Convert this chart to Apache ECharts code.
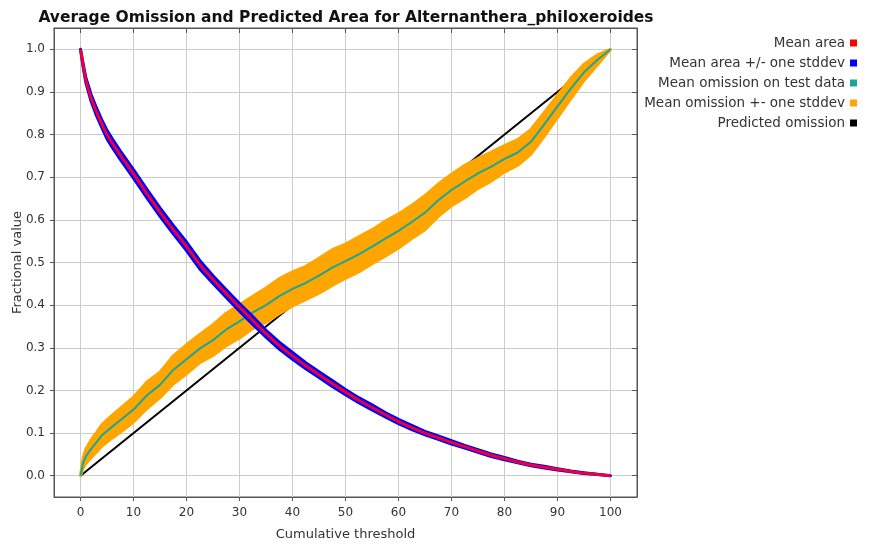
<!DOCTYPE html>
<html>
<head>
<meta charset="utf-8">
<script src="https://cdn.jsdelivr.net/npm/echarts@6/dist/echarts.min.js"></script>
<style>
  html, body { margin: 0; padding: 0; background: #fff; }
  #chart { width: 874px; height: 546px; }
</style>
</head>
<body>
<div id="chart"></div>
<script>
// cumulative threshold positions the curves are sampled at
var thresholds = [0, 0.5, 1, 2, 3, 4, 5, 6, 7.5, 10, 12.5, 15, 17.5, 20, 22.5, 25, 27.5, 30, 32.5, 35,
  37.5, 40, 42.5, 45, 47.5, 50, 52.5, 55, 57.5, 60, 62.5, 65, 67.5, 70, 72.5, 75, 77.5, 80, 82.5, 85,
  87.5, 90, 92.5, 95, 97.5, 100];

var areaMean = [1.0, 0.962, 0.928, 0.886, 0.854, 0.826, 0.80, 0.78, 0.752, 0.708, 0.662, 0.618, 0.577, 0.538, 0.495, 0.46, 0.427, 0.395, 0.364, 0.333,
  0.305, 0.281, 0.258, 0.237, 0.216, 0.196, 0.177, 0.16, 0.143, 0.127, 0.113, 0.1, 0.089, 0.078, 0.068, 0.058, 0.048, 0.04, 0.032, 0.025,
  0.02, 0.015, 0.01, 0.006, 0.003, 0.0];

var areaSd = [0, 0.004, 0.006, 0.008, 0.009, 0.009, 0.01, 0.01, 0.01, 0.01, 0.01, 0.01, 0.01, 0.01, 0.01, 0.009, 0.009, 0.009, 0.009, 0.008,
  0.008, 0.008, 0.007, 0.007, 0.007, 0.006, 0.006, 0.006, 0.005, 0.005, 0.005, 0.004, 0.004, 0.004, 0.003, 0.003, 0.003, 0.003, 0.002, 0.002,
  0.002, 0.0015, 0.001, 0.001, 0.0005, 0];

var omissionMean = [0, 0.03, 0.045, 0.063, 0.078, 0.094, 0.105, 0.115, 0.13, 0.155, 0.188, 0.213, 0.248, 0.273, 0.298, 0.318, 0.343, 0.362, 0.383, 0.4,
  0.421, 0.438, 0.452, 0.469, 0.488, 0.503, 0.519, 0.537, 0.556, 0.574, 0.595, 0.617, 0.646, 0.67, 0.69, 0.709, 0.725, 0.743, 0.758, 0.783,
  0.824, 0.866, 0.908, 0.946, 0.975, 1.0];

var omissionSd = [0, 0.012, 0.017, 0.021, 0.023, 0.025, 0.026, 0.027, 0.028, 0.029, 0.031, 0.03, 0.033, 0.034, 0.033, 0.036, 0.038, 0.039, 0.038, 0.04,
  0.041, 0.04, 0.039, 0.041, 0.042, 0.04, 0.041, 0.04, 0.041, 0.04, 0.039, 0.04, 0.038, 0.037, 0.038, 0.035, 0.034, 0.031, 0.03, 0.029,
  0.028, 0.026, 0.024, 0.019, 0.012, 0];

var predictedX = [0, 100];
var predictedY = [0, 1];

var xTicks = [0, 10, 20, 30, 40, 50, 60, 70, 80, 90, 100];
var yTicks = [0.0, 0.1, 0.2, 0.3, 0.4, 0.5, 0.6, 0.7, 0.8, 0.9, 1.0];

var FONT = 'DejaVu Sans';

function pairs(xs, ys) {
  return xs.map(function (x, i) { return [x, ys[i]]; });
}

// filled band between mean - sd and mean + sd
function band(mean, sd, color, width) {
  return function (params, api) {
    var pts = [];
    for (var i = 0; i < thresholds.length; i++) {
      pts.push(api.coord([thresholds[i], mean[i] + sd[i]]));
    }
    for (var j = thresholds.length - 1; j >= 0; j--) {
      pts.push(api.coord([thresholds[j], mean[j] - sd[j]]));
    }
    return {
      type: 'polygon',
      shape: { points: pts },
      style: { fill: color, stroke: color, lineWidth: width, lineJoin: 'round' }
    };
  };
}

var chart = echarts.init(document.getElementById('chart'));

var axisColor = '#555555';

chart.setOption({
  animation: false,
  backgroundColor: '#ffffff',
  title: {
    text: 'Average Omission and Predicted Area for Alternanthera_philoxeroides',
    left: 341,
    textAlign: 'center',
    top: 5,
    textStyle: { fontFamily: FONT, fontSize: 15.5, fontWeight: 'bold', color: '#111' }
  },
  legend: {
    orient: 'vertical',
    right: 12,
    top: 31,
    align: 'right',
    icon: 'rect',
    itemWidth: 7,
    itemHeight: 7,
    itemGap: 6,
    textStyle: { fontFamily: FONT, fontSize: 13.5, color: '#333' },
    data: ['Mean area', 'Mean area +/- one stddev', 'Mean omission on test data',
      'Mean omission +- one stddev', 'Predicted omission']
  },
  grid: {
    left: 54, right: 237, top: 28, bottom: 49,
    outerBoundsMode: 'none',
    show: true, borderColor: axisColor, borderWidth: 1, backgroundColor: '#fff'
  },
  xAxis: [{
    type: 'value',
    position: 'bottom',
    min: -5, max: 105, splitNumber: 11,
    name: 'Cumulative threshold',
    nameLocation: 'middle',
    nameGap: 31,
    nameMoveOverlap: false,
    nameTextStyle: { fontFamily: FONT, fontSize: 13, color: '#333' },
    axisLine: { show: true, onZero: false, lineStyle: { color: axisColor } },
    axisTick: { show: true, length: 4, customValues: xTicks, lineStyle: { color: axisColor } },
    axisLabel: { customValues: xTicks, margin: 10,
      fontFamily: FONT, fontSize: 12, color: '#333' },
    splitLine: { show: true, lineStyle: { color: '#cccccc', width: 1 } }
  }, {
    type: 'value',
    position: 'top',
    min: -5, max: 105, splitNumber: 11,
    axisLine: { show: true, onZero: false, lineStyle: { color: axisColor } },
    axisTick: { show: true, inside: true, length: 5, customValues: xTicks, lineStyle: { color: axisColor } },
    axisLabel: { show: false },
    splitLine: { show: false }
  }],
  yAxis: [{
    type: 'value',
    position: 'left',
    min: -0.05, max: 1.05, splitNumber: 11,
    name: 'Fractional value',
    nameLocation: 'middle',
    nameGap: 30,
    nameMoveOverlap: false,
    nameTextStyle: { fontFamily: FONT, fontSize: 13, color: '#333' },
    axisLine: { show: true, onZero: false, lineStyle: { color: axisColor } },
    axisTick: { show: true, length: 4, customValues: yTicks, lineStyle: { color: axisColor } },
    axisLabel: { customValues: yTicks, margin: 9,
      fontFamily: FONT, fontSize: 12, color: '#333',
      formatter: function (v) { return v.toFixed(1); } },
    splitLine: { show: true, lineStyle: { color: '#cccccc', width: 1 } }
  }, {
    type: 'value',
    position: 'right',
    min: -0.05, max: 1.05, splitNumber: 11,
    axisLine: { show: true, onZero: false, lineStyle: { color: axisColor } },
    axisTick: { show: true, inside: true, length: 5, customValues: yTicks, lineStyle: { color: axisColor } },
    axisLabel: { show: false },
    splitLine: { show: false }
  }],
  series: [
    {
      name: 'Predicted omission',
      type: 'line',
      z: 1,
      data: pairs(predictedX, predictedY),
      showSymbol: false,
      color: '#000000',
      lineStyle: { color: '#000000', width: 2 }
    },
    {
      name: 'Mean omission +- one stddev',
      type: 'custom',
      z: 2,
      renderItem: band(omissionMean, omissionSd, '#ffa500', 3),
      data: [[50, 0.5]],
      color: '#ffa500',
      itemStyle: { color: '#ffa500' }
    },
    {
      name: 'Mean omission on test data',
      type: 'line',
      z: 3,
      data: pairs(thresholds, omissionMean),
      showSymbol: false,
      color: '#1aa59a',
      lineStyle: { color: '#1aa59a', width: 2 }
    },
    {
      name: 'Mean area +/- one stddev',
      type: 'custom',
      z: 4,
      renderItem: band(areaMean, areaSd, '#0000ff', 3),
      data: [[50, 0.5]],
      color: '#0000ff',
      itemStyle: { color: '#0000ff' }
    },
    {
      name: 'Mean area',
      type: 'line',
      z: 5,
      data: pairs(thresholds, areaMean),
      showSymbol: false,
      smooth: 0.2,
      color: '#ff0000',
      lineStyle: { color: '#ee0033', width: 3 }
    }
  ]
});
</script>
</body>
</html>
